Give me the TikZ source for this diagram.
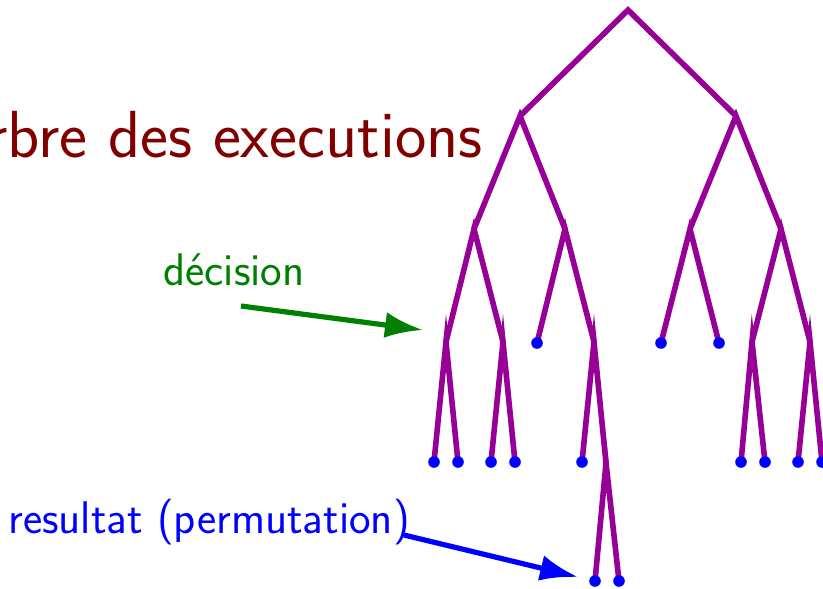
\documentclass[tikz,border=0pt]{standalone}
\usepackage{fontspec}
\usetikzlibrary{arrows.meta}
\definecolor{treepurple}{RGB}{150,0,150}
\definecolor{titlered}{RGB}{128,0,0}
\definecolor{notegreen}{RGB}{0,128,0}
\begin{document}
\begin{tikzpicture}[x=0.5pt,y=-0.5pt,
  branch/.style={draw=treepurple,line width=2.8pt,line join=miter,miter limit=40},
  leafdot/.style={circle,fill=blue,draw=none,inner sep=0pt,minimum size=5.8pt},
  notetext/.style={inner sep=0pt,font=\sffamily\fontsize{22.9}{27}\selectfont},
  notearrow/.style={line width=2.6pt,-{Latex[length=19pt,width=13pt]}}]
\useasboundingbox (0,0) rectangle (823,588);

% vertices of the execution tree
\coordinate (r)     at (628,10);
\coordinate (a)     at (520,116);
\coordinate (b)     at (736,116);
\coordinate (aa)    at (474,229);
\coordinate (ab)    at (565,229);
\coordinate (ba)    at (690,229);
\coordinate (bb)    at (781,229);
\coordinate (aaa)   at (446,342);
\coordinate (aab)   at (503,342);
\coordinate (aba)   at (537,343);
\coordinate (abb)   at (594,342);
\coordinate (baa)   at (661,343);
\coordinate (bab)   at (719,343);
\coordinate (bba)   at (752,342);
\coordinate (bbb)   at (810,342);
\coordinate (aaaa)  at (434,462);
\coordinate (aaab)  at (458,462);
\coordinate (aaba)  at (491,462);
\coordinate (aabb)  at (515,462);
\coordinate (abba)  at (582,462);
\coordinate (abbb)  at (606,463);
\coordinate (bbaa)  at (741,462);
\coordinate (bbab)  at (765,462);
\coordinate (bbba)  at (798,462);
\coordinate (bbbb)  at (822,462);
\coordinate (abbba) at (595,581);
\coordinate (abbbb) at (619,581);

% each decision: left child -- vertex -- right child
\draw[branch] (a) -- (r) -- (b);
\draw[branch] (aa) -- (a) -- (ab);
\draw[branch] (ba) -- (b) -- (bb);
\draw[branch] (aaa) -- (aa) -- (aab);
\draw[branch] (aba) -- (ab) -- (abb);
\draw[branch] (baa) -- (ba) -- (bab);
\draw[branch] (bba) -- (bb) -- (bbb);
\draw[branch] (aaaa) -- (aaa) -- (aaab);
\draw[branch] (aaba) -- (aab) -- (aabb);
\draw[branch] (abba) -- (abb) -- (abbb);
\draw[branch] (bbaa) -- (bba) -- (bbab);
\draw[branch] (bbba) -- (bbb) -- (bbbb);
\draw[branch] (abbba) -- (abbb) -- (abbbb);

% results (leaves)
\foreach \leaf in {aba,baa,bab,aaaa,aaab,aaba,aabb,abba,bbaa,bbab,bbba,bbbb,abbba,abbbb}
  \node[leafdot] (dot-\leaf) at (\leaf) {};

% title
\node[inner sep=0pt,anchor=base east,text=titlered,
      font=\sffamily\fontsize{33.3}{40}\selectfont] (title) at (483,158)
  {Arbre des executions};

% annotations
\node[notetext,anchor=base west,text=notegreen] (decision) at (163,285) {décision};
\coordinate (decfrom) at (241,306);
\coordinate (decto)   at (423,330);
\draw[notearrow,notegreen] (decfrom) -- (decto);

\node[notetext,anchor=base west,text=blue] (resultat) at (8,533) {resultat (permutation)};
\coordinate (resfrom) at (404,535);
\coordinate (resto)   at (578,577);
\draw[notearrow,blue] (resfrom) -- (resto);
\end{tikzpicture}
\end{document}
